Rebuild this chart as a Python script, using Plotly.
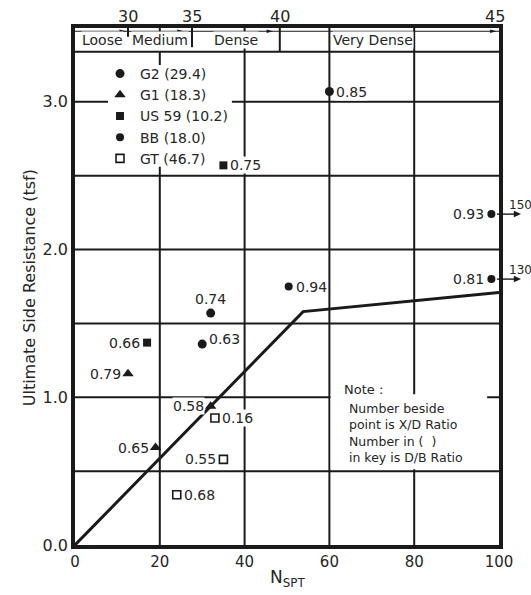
import plotly.graph_objects as go

# ---- data -----------------------------------------------------------------
# Friction angle (deg) marked along the top band and the N_SPT where it sits
phi_values = [30, 35, 40, 45]
phi_nspt = [12.5, 27.6, 48.3, 99.0]

density_labels = ["Loose", "Medium", "Dense", "Very Dense"]
density_centers = [6.4, 20.0, 38.0, 70.3]

# Design curve: ultimate side resistance vs N_SPT
design_n = [0, 53.8, 100]
design_fs = [0, 1.58, 1.71]

series_names = ["G2 (29.4)", "G1 (18.3)", "US 59 (10.2)", "BB (18.0)", "GT (46.7)"]

g2_n = [60, 32, 30]
g2_fs = [3.07, 1.57, 1.36]
g2_xd = ["0.85", "0.74", "0.63"]

g1_n = [12.5, 19, 32]
g1_fs = [1.16, 0.66, 0.94]
g1_xd = ["0.79", "0.65", "0.58"]

us59_n = [17, 35]
us59_fs = [1.37, 2.57]
us59_xd = ["0.66", "0.75"]

bb_n = [50.4, 98.2, 98.2]
bb_fs = [1.75, 2.24, 1.80]
bb_xd = ["0.94", "0.93", "0.81"]
bb_actual_n = [None, 150, 130]   # points beyond the N axis

gt_n = [33, 35, 24]
gt_fs = [0.86, 0.58, 0.34]
gt_xd = ["0.16", "0.55", "0.68"]

x_ticks = [0, 20, 40, 60, 80, 100]
y_ticks = [0, 1, 2, 3]
y_ticktext = ["0.0", "1.0", "2.0", "3.0"]

note_title = "Note :"
note_blocks = ["Number beside<br>point is X/D Ratio", "Number in (  )<br>in key is D/B Ratio"]

# ---- styling ---------------------------------------------------------------
FONT = "DejaVu Sans"
INK = "#1a1a1a"
TXT = "#262626"
Y_TOP = 3.5
BAND_BOTTOM = 3.34

fig = go.Figure()

fig.add_trace(go.Scatter(x=design_n, y=design_fs, mode="lines",
                         line=dict(color=INK, width=3), showlegend=False,
                         hoverinfo="skip"))

series = [
    (series_names[0], g2_n, g2_fs, g2_xd, dict(symbol="circle", size=9)),
    (series_names[1], g1_n, g1_fs, g1_xd, dict(symbol="triangle-up", size=10)),
    (series_names[2], us59_n, us59_fs, us59_xd, dict(symbol="square", size=8)),
    (series_names[3], bb_n, bb_fs, bb_xd, dict(symbol="circle", size=8)),
    (series_names[4], gt_n, gt_fs, gt_xd,
     dict(symbol="square-open", size=8, line=dict(width=1.6, color=INK))),
]
for name, xs, ys, _, mk in series:
    fig.add_trace(go.Scatter(x=xs, y=ys, mode="markers", name=name,
                             marker=dict(color=INK, **mk)))

# where each X/D label sits relative to its point: (side, extra vertical px)
label_side = {
    "0.85": ("right", 0), "0.74": ("top", 0), "0.63": ("right", 5),
    "0.79": ("left", 0), "0.65": ("left", 0), "0.58": ("left", 0),
    "0.66": ("left", 0), "0.75": ("right", 0),
    "0.94": ("right", 0), "0.93": ("left", 0), "0.81": ("left", 0),
    "0.16": ("right", 0), "0.55": ("left", 0), "0.68": ("right", 0),
}

annotations = []
for _, xs, ys, labels, _ in series:
    for x, y, t in zip(xs, ys, labels):
        side, dy = label_side[t]
        a = dict(x=x, y=y, xref="x", yref="y", text=t, showarrow=False,
                 font=dict(family=FONT, size=14, color=TXT),
                 bgcolor="white", borderpad=0, yshift=dy)
        if side == "right":
            a.update(xanchor="left", xshift=6)
        elif side == "left":
            a.update(xanchor="right", xshift=-6)
        else:
            a.update(xanchor="center", yshift=14 + dy)
        annotations.append(a)

shapes = []

# off-scale points: arrow pointing right with the actual N value
ARROW_TAIL, ARROW_HEAD = 0.995, 1.052
for y, nval in zip(bb_fs, bb_actual_n):
    if nval is None:
        continue
    shapes.append(dict(type="line", xref="paper", yref="y", x0=ARROW_TAIL,
                       x1=ARROW_HEAD - 0.01, y0=y, y1=y,
                       line=dict(color=INK, width=1.4)))
    shapes.append(dict(type="path", xref="paper", yref="y",
                       path=f"M {ARROW_HEAD},{y} L {ARROW_HEAD - 0.017},{y + 0.022} "
                            f"L {ARROW_HEAD - 0.017},{y - 0.022} Z",
                       fillcolor=INK, line=dict(width=0)))
    annotations.append(dict(x=1.019, y=y, xref="paper", yref="y", text=str(nval),
                            showarrow=False, xanchor="left", yshift=9,
                            font=dict(family=FONT, size=12, color=TXT)))

# friction angle labels above the band
for phi, n in zip(phi_values, phi_nspt):
    annotations.append(dict(x=n, y=1.0232, xref="x", yref="paper", text=str(phi),
                            showarrow=False, yanchor="middle",
                            font=dict(family=FONT, size=16, color=TXT)))

# density band labels
for lab, c in zip(density_labels, density_centers):
    annotations.append(dict(x=c, y=3.42, xref="x", yref="y", text=lab,
                            showarrow=False, bgcolor="white", borderpad=0,
                            font=dict(family=FONT, size=14, color=TXT)))

# note box text
annotations.append(dict(x=63.0, y=1.05, xref="x", yref="y", text=note_title,
                        showarrow=False, xanchor="left",
                        font=dict(family=FONT, size=13, color=TXT)))
for t, y in zip(note_blocks, [0.87, 0.645]):
    annotations.append(dict(x=64.2, y=y, xref="x", yref="y", text=t, showarrow=False,
                            xanchor="left", align="left",
                            font=dict(family=FONT, size=12.5, color=TXT)))

# axis titles
annotations.append(dict(x=0.5, y=0, xref="paper", yref="paper", text="N<sub>SPT</sub>",
                        showarrow=False, yshift=-33, xanchor="center", yanchor="middle",
                        font=dict(family=FONT, size=17, color=TXT)))
annotations.append(dict(x=-0.108, y=0.497, xref="paper", yref="paper",
                        text="Ultimate Side Resistance (tsf)", textangle=-90,
                        xanchor="center", yanchor="middle",
                        showarrow=False, font=dict(family=FONT, size=16, color=TXT)))

# ---- grid / frame shapes ---------------------------------------------------
grid = dict(color=INK, width=2)
for v in [40, 60, 80]:
    shapes.append(dict(type="line", xref="x", yref="y", x0=v, x1=v, y0=0, y1=Y_TOP,
                       line=grid, layer="below"))
shapes.append(dict(type="line", xref="x", yref="y", x0=20, x1=20, y0=0, y1=BAND_BOTTOM,
                   line=grid, layer="below"))
shapes.append(dict(type="line", xref="x", yref="y", x0=20, x1=20, y0=3.465, y1=Y_TOP,
                   line=grid, layer="below"))
for h in [0.5, 1.0, 1.5, 2.0, 2.5, 3.0, BAND_BOTTOM]:
    shapes.append(dict(type="line", xref="x", yref="y", x0=0, x1=100, y0=h, y1=h,
                       line=grid, layer="below"))
# band separators at the angle marks
for n, y0 in zip(phi_nspt[:3], [3.44, 3.37, BAND_BOTTOM]):
    shapes.append(dict(type="line", xref="x", yref="y", x0=n, x1=n, y0=y0, y1=Y_TOP,
                       line=grid, layer="below"))
# thin arrow line along the top of the band, heads pointing at each angle mark
shapes.append(dict(type="line", xref="x", yref="y", x0=0, x1=100, y0=3.478, y1=3.478,
                   line=dict(color=INK, width=1), layer="below"))
for head in [12.0, 25.6, 46.7, 99.4]:
    shapes.append(dict(type="path", xref="x", yref="y",
                       path=f"M {head},3.478 L {head - 1.5},3.490 L {head - 1.5},3.466 Z",
                       fillcolor=INK, line=dict(width=0)))
# blank panels behind the key and the note
shapes.append(dict(type="rect", xref="x", yref="y", x0=7.8, x1=37.0, y0=2.56, y1=3.25,
                   fillcolor="white", line=dict(width=0), layer="below"))
shapes.append(dict(type="rect", xref="x", yref="y", x0=60.3, x1=97.2, y0=0.512, y1=1.02,
                   fillcolor="white", line=dict(width=0), layer="below"))

axis_common = dict(showgrid=False, zeroline=False, showline=True, linecolor=INK,
                   linewidth=3.5, mirror=True, ticks="", fixedrange=True)

fig.update_layout(
    width=531, height=595,
    margin=dict(l=75, r=32, t=28, b=50),
    paper_bgcolor="white", plot_bgcolor="white",
    font=dict(family=FONT, size=14, color=TXT),
    xaxis=dict(range=[0, 100], tickvals=x_ticks,
               tickfont=dict(family=FONT, size=15, color=TXT), **axis_common),
    yaxis=dict(range=[0, Y_TOP], tickvals=y_ticks, ticktext=y_ticktext,
               tickfont=dict(family=FONT, size=16, color=TXT), **axis_common),
    legend=dict(x=0.059, y=0.942, xanchor="left", yanchor="top",
                bgcolor="rgba(0,0,0,0)", borderwidth=0,
                font=dict(family=FONT, size=14, color=TXT)),
    shapes=shapes,
    annotations=annotations,
)

fig.write_html("out.html")
